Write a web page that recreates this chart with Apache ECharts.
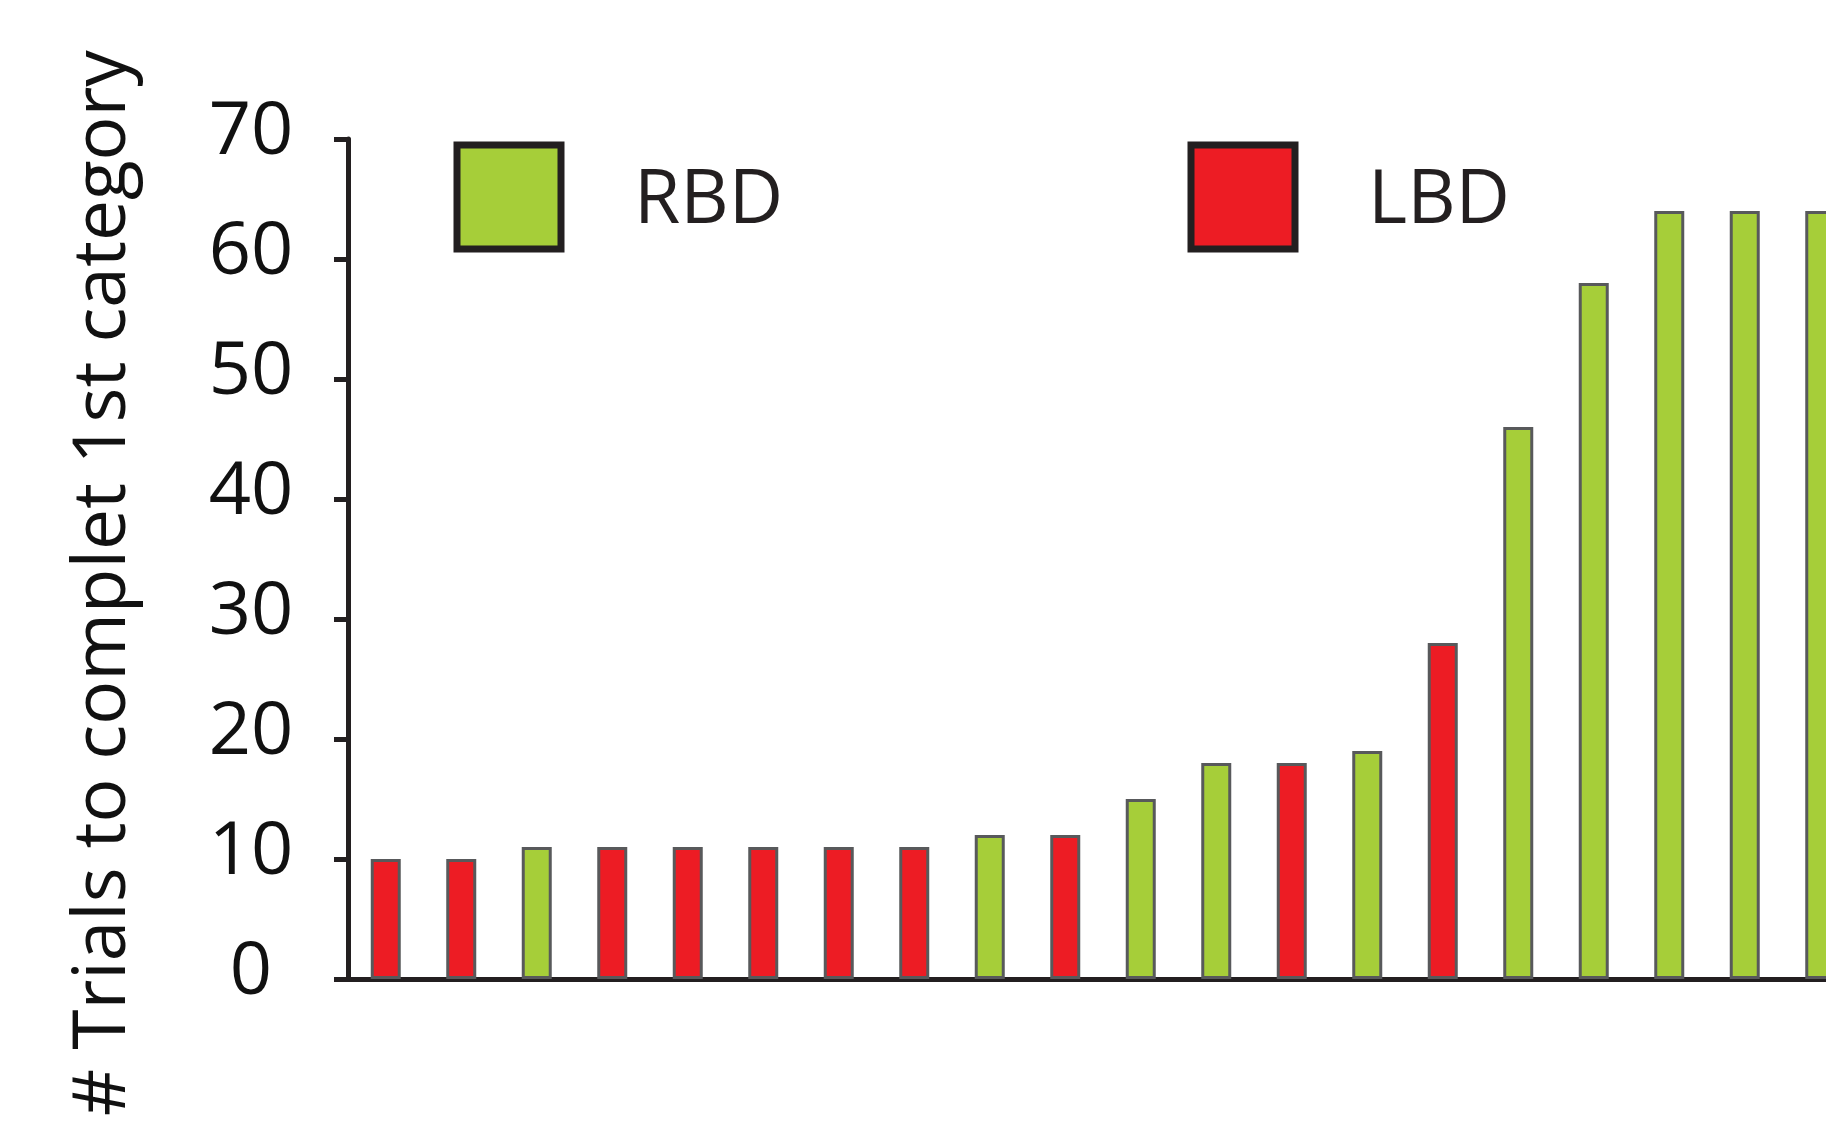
<!DOCTYPE html>
<html>
<head>
<meta charset="utf-8">
<title># Trials to complet 1st category</title>
<script src="https://cdn.jsdelivr.net/npm/echarts@6/dist/echarts.min.js"></script>
<style>
  html, body { margin: 0; padding: 0; background: #ffffff; }
  #chart { width: 1826px; height: 1127px; }
</style>
</head>
<body>
<div id="chart"></div>
<script>
// Patients, sorted by number of trials needed to complete the first category
const patients = ['P1','P2','P3','P4','P5','P6','P7','P8','P9','P10',
                  'P11','P12','P13','P14','P15','P16','P17','P18','P19','P20'];
const trials = [10, 10, 11, 11, 11, 11, 11, 11, 12, 12,
                15, 18, 18, 19, 28, 46, 58, 64, 64, 64];
const groupOf = ['LBD','LBD','RBD','LBD','LBD','LBD','LBD','LBD','RBD','LBD',
                 'RBD','RBD','LBD','RBD','LBD','RBD','RBD','RBD','RBD','RBD'];
const groups = ['RBD', 'LBD'];
const yTicks = [0, 10, 20, 30, 40, 50, 60, 70];
const yTitle = '# Trials to complet 1st category';

const groupColor = { RBD: '#A6CE39', LBD: '#ED1C24' };
const ink = '#231F20';
const font = '"Open Sans", "Noto Sans", sans-serif';

// one series per group; empty slots keep each bar in its own patient column
const series = groups.map(g => ({
  name: g,
  type: 'bar',
  stack: 'patients',
  barWidth: 30,
  data: trials.map((v, i) => groupOf[i] === g ? v : '-'),
  itemStyle: { color: groupColor[g], borderColor: '#58595B', borderWidth: 3 },
  emphasis: { disabled: true }
}));

// legend label: a thin spacer line above the name lowers it a little beside the swatch
const legendLeft = [453.5, 1187.5];
const legends = groups.map((g, k) => ({
  data: [{ name: g, icon: 'rect' }],
  left: legendLeft[k],
  top: 141.5,
  padding: 0,
  itemWidth: 104,
  itemHeight: 104,
  selectedMode: false,
  itemStyle: { borderColor: ink, borderWidth: 7 },
  formatter: name => '{gap| }\n{t|' + name + '}',
  textStyle: {
    fontFamily: font, fontSize: 75, color: ink,
    rich: {
      gap: { fontSize: 2, lineHeight: 10 },
      t: { fontFamily: font, fontSize: 75, color: ink, padding: [0, 0, 0, 68] }
    }
  }
}));

const chart = echarts.init(document.getElementById('chart'), null, { renderer: 'canvas' });
chart.setOption({
  animation: false,
  backgroundColor: '#ffffff',
  // the plot runs past the right edge of the canvas, so the last bar is cut
  grid: {
    left: 348, top: 139, bottom: 148, width: 1510,
    containLabel: false, outerBoundsMode: 'none'
  },
  legend: legends,
  xAxis: {
    type: 'category',
    data: patients,
    axisLine: { show: true, lineStyle: { color: ink, width: 5 } },
    axisTick: { show: false },
    axisLabel: { show: false },
    splitLine: { show: false }
  },
  yAxis: {
    type: 'value',
    min: yTicks[0],
    max: yTicks[yTicks.length - 1],
    interval: yTicks[1] - yTicks[0],
    axisLine: { show: true, lineStyle: { color: ink, width: 5 } },
    axisTick: { show: true, length: 14, lineStyle: { color: ink, width: 5 } },
    axisLabel: {
      fontFamily: font, fontSize: 74, color: '#111111',
      align: 'center', verticalAlign: 'bottom', lineHeight: 12, margin: 97
    },
    splitLine: { show: false }
  },
  graphic: [{
    type: 'text',
    x: 104,
    y: 583,
    rotation: Math.PI / 2,
    style: {
      text: yTitle,
      fontFamily: font,
      fontSize: 73,
      fill: '#111111',
      align: 'center',
      verticalAlign: 'middle'
    }
  }],
  series: series
});
</script>
</body>
</html>
